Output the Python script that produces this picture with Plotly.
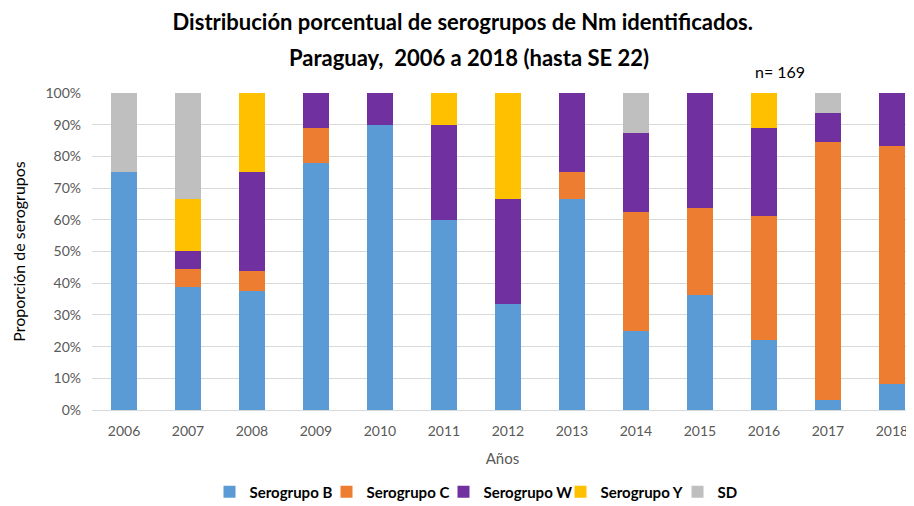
import plotly.graph_objects as go

years = ["2006", "2007", "2008", "2009", "2010", "2011", "2012",
         "2013", "2014", "2015", "2016", "2017", "2018"]
sero_b = [75.0, 38.9, 37.5, 77.8, 90.0, 60.0, 33.3, 66.7, 25.0, 36.4, 22.2, 3.1, 8.3]
sero_c = [0.0, 5.6, 6.25, 11.1, 0.0, 0.0, 0.0, 8.3, 37.5, 27.3, 38.9, 81.3, 75.0]
sero_w = [0.0, 5.6, 31.25, 11.1, 10.0, 30.0, 33.3, 25.0, 25.0, 36.3, 27.8, 9.4, 16.7]
sero_y = [0.0, 16.6, 25.0, 0.0, 0.0, 10.0, 33.4, 0.0, 0.0, 0.0, 11.1, 0.0, 0.0]
sero_sd = [25.0, 33.3, 0.0, 0.0, 0.0, 0.0, 0.0, 0.0, 12.5, 0.0, 0.0, 6.2, 0.0]

series = [
    ("Serogrupo B", sero_b, "#5B9BD5"),
    ("Serogrupo C", sero_c, "#ED7D31"),
    ("Serogrupo W", sero_w, "#7030A0"),
    ("Serogrupo Y", sero_y, "#FFC000"),
    ("SD", sero_sd, "#BFBFBF"),
]

FONT = "Lato"
OFF = 8  # the page body margin shifts the figure by 8 px
W, H = 914 - OFF, 506 - OFF
ML, MR, MT, MB = 92 - OFF, 1, 93 - OFF, 96
PW, PH = W - ML - MR, H - MT - MB

fig = go.Figure()
for name, vals, col in series:
    fig.add_trace(go.Bar(
        x=years, y=vals, name=name, marker=dict(color=col, line=dict(width=0)),
        hovertemplate="%{x}: %{y}%<extra>" + name + "</extra>",
    ))

fig.update_layout(
    barmode="stack",
    bargap=0.59,
    width=W, height=H,
    paper_bgcolor="white", plot_bgcolor="white",
    margin=dict(l=ML, r=MR, t=MT, b=MB, autoexpand=False),
    font=dict(family=FONT, color="#595959", size=14),
    title=dict(
        text="<b>Distribución porcentual de serogrupos de Nm identificados.</b>",
        x=0.502, xanchor="center", y=1 - (22 - OFF) / H, yanchor="middle",
        font=dict(family=FONT, size=22, color="black"),
        automargin=False,
    ),
    xaxis=dict(
        type="category", range=[-0.5, 12.33], automargin=False,
        showline=True, linecolor="#D9D9D9", linewidth=1,
        ticks="", tickfont=dict(size=14, color="#595959"), ticklabelstandoff=8,
        title=dict(text="Años", font=dict(size=15, color="#595959"), standoff=15),
    ),
    yaxis=dict(
        range=[0, 100], tickvals=[0, 10, 20, 30, 40, 50, 60, 70, 80, 90, 100],
        ticktext=[f"{v}%" for v in range(0, 101, 10)], automargin=False,
        showgrid=True, gridcolor="#D9D9D9", gridwidth=1, zeroline=False,
        ticks="", tickfont=dict(size=14, color="#595959"), ticklabelstandoff=10,
        title=dict(text="Proporción de serogrupos", font=dict(size=16, color="black"), standoff=15),
    ),
    legend=dict(
        orientation="h", x=(502 - OFF - ML) / PW, xanchor="center",
        y=-(492 - 410) / PH, yanchor="middle",
        font=dict(size=15, color="black", family=FONT, weight="bold"), traceorder="normal",
        itemwidth=30, itemsizing="constant", entrywidth=72,
    ),
    annotations=[
        dict(
            text="<b>Paraguay,  2006 a 2018 (hasta SE 22)</b>",
            x=(469 - OFF - ML) / PW, y=1 + (93 - 57) / PH, xref="paper", yref="paper",
            xanchor="center", yanchor="middle", showarrow=False,
            font=dict(size=22, color="black", family=FONT),
        ),
        dict(
            text="n= 169", x=(780 - OFF - ML) / PW, y=1 + (93 - 72) / PH, xref="paper", yref="paper",
            xanchor="center", yanchor="middle",
            showarrow=False, font=dict(size=16, color="black", family=FONT),
        ),
    ],
)
fig.write_html("out.html")
